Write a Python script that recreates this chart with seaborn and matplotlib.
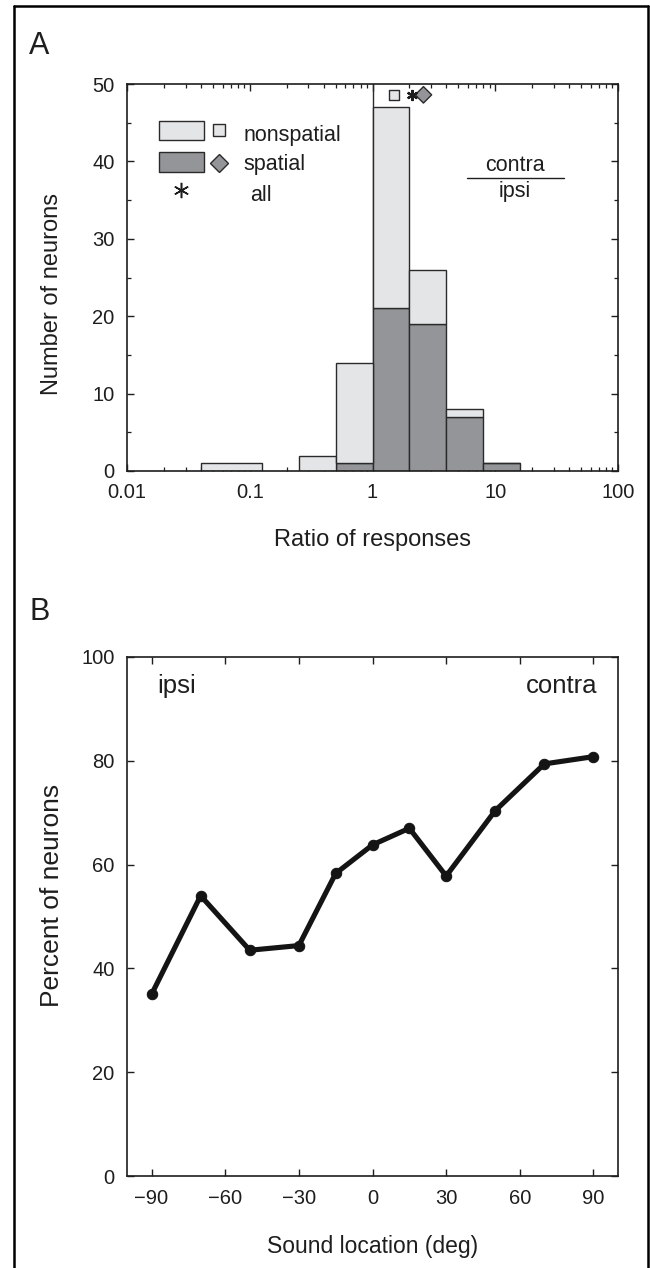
import numpy as np
import matplotlib
matplotlib.use("Agg")
import matplotlib.pyplot as plt
from matplotlib.lines import Line2D
from matplotlib.patches import Rectangle
from matplotlib.ticker import MultipleLocator, LogLocator, FixedLocator, NullFormatter
import pandas as pd
import seaborn as sns

# ---- Panel A: histogram of contra/ipsi response ratios ----
bin_left = [0.04, 0.25, 0.5, 1, 2, 4, 8]
bin_right = [0.125, 0.5, 1, 2, 4, 8, 16]
spatial_counts = [0, 0, 1, 21, 19, 7, 1]
nonspatial_counts = [1, 2, 13, 26, 7, 1, 0]
# summary markers above the histogram (ratio values)
median_nonspatial = 1.5
median_all = 2.1
median_spatial = 2.6
ratio_ticks = [0.01, 0.1, 1, 10, 100]
ratio_tick_labels = ["0.01", "0.1", "1", "10", "100"]

# ---- Panel B: percent of neurons vs sound location ----
sound_location = [-90, -70, -50, -30, -15, 0, 15, 30, 50, 70, 90]
percent_neurons = [35, 54, 43.5, 44.4, 58.3, 63.8, 67, 57.8, 70.4, 79.4, 80.8]
location_ticks = [-90, -60, -30, 0, 30, 60, 90]
location_tick_labels = ["\u221290", "\u221260", "\u221230", "0", "30", "60", "90"]

LIGHT = "#e4e5e7"
DARK = "#939598"
EDGE = "#2a2a2a"
INK = "#1e1e1e"

sns.set_theme(style="ticks")
plt.rcParams["font.family"] = ["Liberation Sans", "DejaVu Sans"]
plt.rcParams["axes.linewidth"] = 1.2
plt.rcParams["axes.edgecolor"] = INK
plt.rcParams["text.color"] = INK
plt.rcParams["axes.labelcolor"] = INK
plt.rcParams["xtick.color"] = INK
plt.rcParams["ytick.color"] = INK

W, H = 650, 1268
fig = plt.figure(figsize=(W / 100, H / 100), dpi=100)


def axes_px(left, top, right, bottom):
    return fig.add_axes([left / W, 1 - bottom / H, (right - left) / W, (bottom - top) / H])


axA = axes_px(127, 84, 618, 471)
axB = axes_px(127, 657, 618, 1176)

TICK_FS = 14.5
TEXT_FS = 15.5

# ----- Panel A -----
widths = np.array(bin_right) - np.array(bin_left)
axA.axvline(1, color=EDGE, lw=1.0, zorder=1)
axA.bar(bin_left, spatial_counts, width=widths, align="edge",
        color=DARK, edgecolor=EDGE, linewidth=1.0, zorder=2)
axA.bar(bin_left, nonspatial_counts, width=widths, bottom=spatial_counts, align="edge",
        color=LIGHT, edgecolor=EDGE, linewidth=1.0, zorder=2)

marker_df = pd.DataFrame({"ratio": [median_nonspatial, median_spatial],
                          "y": [48.6, 48.6],
                          "kind": ["nonspatial", "spatial"]})
sns.scatterplot(data=marker_df, x="ratio", y="y", style="kind",
                markers={"nonspatial": "s", "spatial": "D"},
                hue="kind", palette={"nonspatial": LIGHT, "spatial": DARK},
                s=[55, 70], edgecolor=EDGE, linewidth=1.0, legend=False, ax=axA, zorder=5)
axA.plot([median_all], [48.6], marker=(6, 2, 0), markersize=8, mew=1.6,
         color=INK, zorder=5, clip_on=False)

axA.set_xscale("log")
axA.set_xlim(0.01, 100)
axA.set_ylim(0, 50)
axA.xaxis.set_major_locator(FixedLocator(ratio_ticks))
axA.set_xticklabels(ratio_tick_labels)
axA.xaxis.set_minor_locator(LogLocator(base=10, subs=np.arange(2, 10)))
axA.xaxis.set_minor_formatter(NullFormatter())
axA.yaxis.set_major_locator(MultipleLocator(10))
axA.yaxis.set_minor_locator(MultipleLocator(5))
axA.set_xlabel("Ratio of responses", fontsize=17)
axA.set_ylabel("Number of neurons", fontsize=17)

# legend drawn inside the axes
tA = axA.transAxes
axA.add_patch(Rectangle((0.065, 0.855), 0.091, 0.05, transform=tA,
                        facecolor=LIGHT, edgecolor=EDGE, lw=1.0))
axA.add_patch(Rectangle((0.065, 0.773), 0.091, 0.05, transform=tA,
                        facecolor=DARK, edgecolor=EDGE, lw=1.0))
axA.plot([0.188], [0.880], transform=tA, marker="s", markersize=8.5,
         mfc=LIGHT, mec=EDGE, mew=1.0, ls="none")
axA.plot([0.188], [0.797], transform=tA, marker="D", markersize=9,
         mfc=DARK, mec=EDGE, mew=1.0, ls="none")
axA.plot([0.110], [0.726], transform=tA, marker=(6, 2, 0), markersize=11,
         mew=1.1, color=INK, ls="none")
axA.text(0.237, 0.866, "nonspatial", transform=tA, fontsize=TEXT_FS, va="center", ha="left")
axA.text(0.237, 0.791, "spatial", transform=tA, fontsize=TEXT_FS, va="center", ha="left")
axA.text(0.250, 0.713, "all", transform=tA, fontsize=TEXT_FS, va="center", ha="left")
axA.text(0.790, 0.789, "contra", transform=tA, fontsize=TEXT_FS, va="center", ha="center")
axA.plot([0.692, 0.890], [0.757, 0.757], transform=tA, color=INK, lw=1.0)
axA.text(0.790, 0.722, "ipsi", transform=tA, fontsize=TEXT_FS, va="center", ha="center")

# ----- Panel B -----
dfB = pd.DataFrame({"location": sound_location, "percent": percent_neurons})
sns.lineplot(data=dfB, x="location", y="percent", ax=axB, color="#141414",
             lw=3.7, marker="o", markersize=7.5, markeredgecolor="#141414",
             solid_joinstyle="round", solid_capstyle="round")
axB.set_xlim(-100, 100)
axB.set_ylim(0, 100)
axB.set_xticks(location_ticks)
axB.set_xticklabels(location_tick_labels)
axB.yaxis.set_major_locator(MultipleLocator(20))
axB.set_xlabel("Sound location (deg)", fontsize=16.5)
axB.set_ylabel("Percent of neurons", fontsize=19)
axB.text(0.062, 0.945, "ipsi", transform=axB.transAxes, fontsize=18.5,
         va="center", ha="left")
axB.text(0.959, 0.945, "contra", transform=axB.transAxes, fontsize=18.5,
         va="center", ha="right")

for ax in (axA, axB):
    ax.tick_params(which="both", direction="in", top=True, right=True,
                   labelsize=TICK_FS, pad=9)
    ax.tick_params(which="major", length=5, width=1.0)
    ax.tick_params(which="minor", length=3, width=0.9)
    for sp in ax.spines.values():
        sp.set_visible(True)
        sp.set_linewidth(1.2)

# axis label placement (axes-fraction coordinates of the label centres)
for ax, xl_y, yl_y in ((axA, (471 - 540) / 387, 0.457),
                       (axB, (1176 - 1247) / 519, 0.541)):
    ax.xaxis.set_label_coords(0.5, xl_y)
    ax.xaxis.label.set_verticalalignment("center")
    ax.yaxis.set_label_coords((52 - 127) / 491, yl_y)
    ax.yaxis.label.set_verticalalignment("center")

# panel letters and surrounding frame
fig.text(39 / W, 1 - 46 / H, "A", fontsize=22, ha="center", va="center")
fig.text(40 / W, 1 - 612 / H, "B", fontsize=22, ha="center", va="center")
fx0, fx1, fy1 = 14.5 / W, 647.5 / W, 1 - 6 / H
for xs, ys in (([fx0, fx0], [0, fy1]), ([fx0, fx1], [fy1, fy1]), ([fx1, fx1], [fy1, 0])):
    fig.add_artist(Line2D(xs, ys, transform=fig.transFigure, color="black", lw=1.8))

fig.savefig("out.png", dpi=100)
